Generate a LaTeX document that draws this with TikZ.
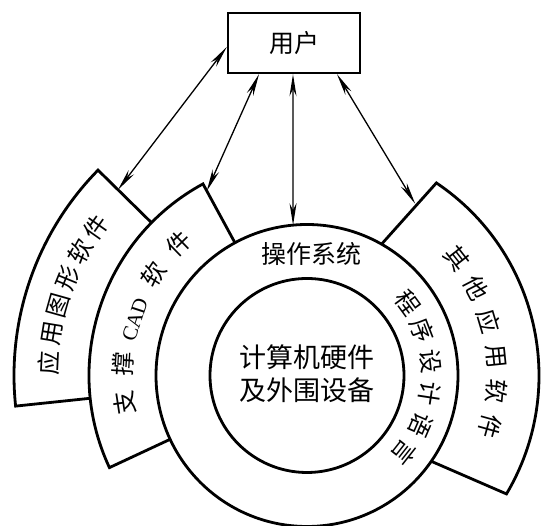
\documentclass[tikz,border=0pt]{standalone}
\usepackage{fontspec}
\setmainfont{Noto Sans CJK SC}
\newfontfamily\latinserif{Liberation Serif}
\usetikzlibrary{arrows.meta}
\begin{document}
\begin{tikzpicture}[x=1pt,y=1pt,
  part/.style={draw=black, line width=2.8pt, fill=white},
  conn/.style={line width=1.3pt, {Stealth[length=22pt,width=7pt,inset=7pt]}-{Stealth[length=22pt,width=7pt,inset=7pt]}},
  lab/.style={font=\fontsize{25pt}{30pt}\selectfont, inner sep=0pt},
  ch/.style={font=\fontsize{24pt}{30pt}\selectfont, inner sep=0pt, anchor=center},
]
\useasboundingbox (0,0) rectangle (550,526);
\begin{scope}[shift={(307,150.5)}]
  % application graphics software sector
  \draw[part] (135.5:200) -- (135.5:293) arc[start angle=135.5, end angle=186, radius=293] -- (186:200) -- cycle;
  % support CAD software sector
  \draw[part] (118.5:150) -- (118.5:218) arc[start angle=118.5, end angle=205, radius=218] -- (205:150) -- cycle;
  % other application software sector
  \draw[part] (60.5:150) -- (56.1:232) arc[start angle=56.1, end angle=-30.7, radius=232] -- (-34.7:150) -- cycle;
  % operating system ring
  \draw[part] (0,0) circle[radius=151];
  \draw[part] (0,0) circle[radius=97];
  \node[font=\fontsize{27pt}{33pt}\selectfont, inner sep=0pt, align=center] (hw) at (0,1.5) {计算机硬件\\及外围设备};
  \node[lab] (os) at (4,121.5) {操作系统};
  % arc texts
  \foreach \c/\a [count=\i] in {应/177.2, 用/170.7, 图/164.3, 形/157.8, 软/151.4, 件/144.9}
    \node[ch, rotate=\a-90] (app\i) at (\a:258) {\c};
  \foreach \c/\a [count=\i] in {支/188.6, 撑/176.5, 软/146.7, 件/134.2}
    \node[ch, rotate=\a-90] (cad\i) at (\a:184) {\c};
  \node[font=\latinserif\fontsize{21pt}{26pt}\selectfont, inner sep=0pt, rotate=162-90] (cadtxt) at (162:181) {CAD};
  \foreach \c/\a [count=\i] in {其/38.0, 他/27.3, 应/16.6, 用/5.8, 软/-4.9, 件/-15.6}
    \node[ch, rotate=\a-90] (oth\i) at (\a:190) {\c};
  \foreach \c/\a [count=\i] in {程/36.0, 序/21.1, 设/6.3, 计/-8.6, 语/-23.4, 言/-38.3}
    \node[ch, rotate=\a-90] (lang\i) at (\a:124) {\c};
  % connector end points
  \coordinate (appin) at (135.5:265);
  \coordinate (cadin) at (118.5:210);
  \coordinate (osin) at (95.3:151);
  \coordinate (othin) at (57.8:203);
\end{scope}
\node[draw, line width=2.4pt, minimum width=132pt, minimum height=60pt, lab] (user) at (294,483) {用户};
\draw[conn] ([yshift=-4pt]user.west) -- (appin);
\draw[conn] ([xshift=-35pt]user.south) -- (cadin);
\draw[conn] ([xshift=-1pt]user.south) -- (osin);
\draw[conn] ([xshift=43pt]user.south) -- (othin);
\end{tikzpicture}
\end{document}
